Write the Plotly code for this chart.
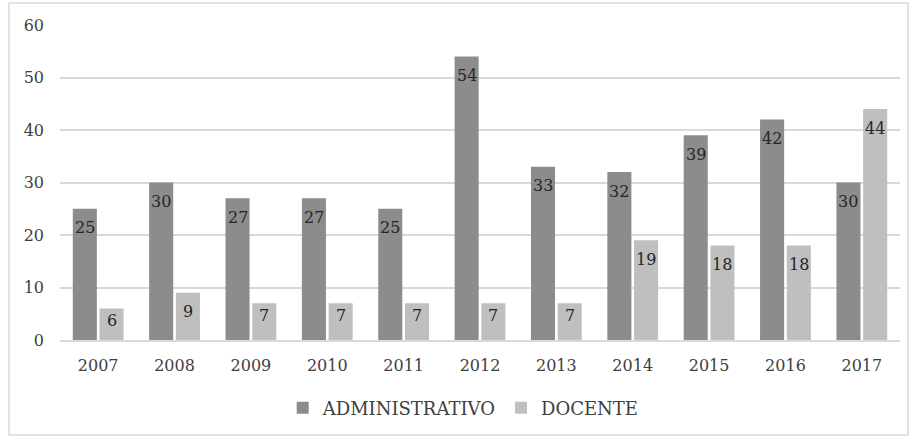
import plotly.graph_objects as go

years = ["2007", "2008", "2009", "2010", "2011", "2012", "2013", "2014", "2015", "2016", "2017"]
administrativo = [25, 30, 27, 27, 25, 54, 33, 32, 39, 42, 30]
docente = [6, 9, 7, 7, 7, 7, 7, 19, 18, 18, 44]
y_ticks = [0, 10, 20, 30, 40, 50, 60]

FONT = "DejaVu Serif"
TXT = "#404040"

fig = go.Figure()
fig.add_trace(go.Bar(
    x=years, y=administrativo, name="ADMINISTRATIVO",
    marker=dict(color="#8c8c8c", line=dict(width=0)),
))
fig.add_trace(go.Bar(
    x=years, y=docente, name="DOCENTE",
    marker=dict(color="#bfbfbf", line=dict(width=0)),
))

# value labels, "inside end" style (x given as category index)
annotations = []
for vals, shift in ((administrativo, -13.4), (docente, 13.4)):
    for i, v in enumerate(vals):
        annotations.append(dict(
            x=i, y=v, xref="x", yref="y", text=str(v), showarrow=False,
            xshift=shift, yshift=-19 if v > 8 else -12, yanchor="middle",
            font=dict(family=FONT, size=16, color="#262626"),
        ))

fig.update_layout(
    width=909, height=436,
    margin=dict(l=60, r=9, t=25, b=96),
    paper_bgcolor="white", plot_bgcolor="white",
    barmode="group", bargap=0.3, bargroupgap=0.1,
    font=dict(family=FONT, size=16, color=TXT),
    showlegend=True,
    legend=dict(orientation="h", x=0.48, xanchor="center",
                yref="container", y=0.064, yanchor="middle",
                font=dict(family=FONT, size=18, color=TXT),
                itemwidth=30, traceorder="normal"),
    annotations=annotations,
    shapes=[dict(type="rect", xref="paper", yref="paper",
                 x0=-0.0607, x1=1.0095, y0=-0.3016, y1=1.0698,
                 line=dict(color="#d9d9d9", width=1.5))],
)
fig.update_xaxes(type="category", range=[-0.5, len(years) - 0.5], showgrid=False,
                 showline=True, linecolor="#d9d9d9", linewidth=1.5, ticks="",
                 ticklabelstandoff=10,
                 tickfont=dict(family=FONT, size=16, color=TXT))
fig.update_yaxes(range=[0, 60], tickvals=y_ticks, showgrid=True, gridcolor="#d9d9d9",
                 gridwidth=1.5, zeroline=False, showline=False, ticks="",
                 ticklabelstandoff=15,
                 tickfont=dict(family=FONT, size=16, color=TXT))

fig.write_html("out.html", config={"displayModeBar": False},
               post_script="document.body.style.margin='0';")
